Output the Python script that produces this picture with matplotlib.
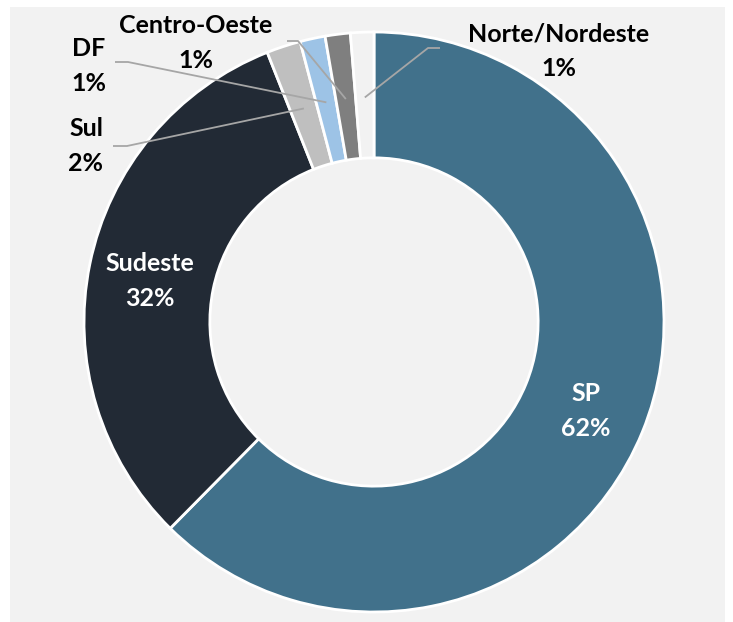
import numpy as np
import matplotlib
matplotlib.use("Agg")
import matplotlib.pyplot as plt
from matplotlib.patches import Rectangle

# data (clockwise from 12 o'clock)
regions = ["SP", "Sudeste", "Sul", "DF", "Centro-Oeste", "Norte/Nordeste"]
shares = [62.4, 31.6, 1.9, 1.4, 1.4, 1.3]
colors = ["#41718b", "#222a35", "#bfbfbf", "#9dc3e6", "#7f7f7f", "#f2f2f2"]

W, H = 733, 622
CX, CY, R = 374, 322, 290  # donut centre / radius in pixels

plt.rcParams["font.family"] = ["Lato", "DejaVu Sans"]

fig = plt.figure(figsize=(W / 100, H / 100), dpi=100)
fig.patch.set_facecolor("white")
fig.patches.append(Rectangle((10 / W, 0), 715 / W, 615 / H, transform=fig.transFigure,
                             facecolor="#f2f2f2", edgecolor="none", zorder=-1))

ax = fig.add_axes([0, 0, 1, 1])
ax.set_zorder(1)
ax.set_facecolor("none")


def px(x, y):
    # pixel position -> data coords
    return (x - CX) / R, (CY - y) / R


wedges, _ = ax.pie(shares, colors=colors, startangle=90, counterclock=False,
                   radius=1.0, wedgeprops=dict(width=0.434, edgecolor="white", linewidth=2))

ax.set_xlim(-CX / R, (W - CX) / R)
ax.set_ylim(-(H - CY) / R, CY / R)
ax.set_aspect("equal")
ax.axis("off")

# angles of wedge middles
mids = []
for w in wedges:
    mids.append(np.deg2rad((w.theta1 + w.theta2) / 2))

fs = 18
lbl_inside = {"SP": (586, 411), "Sudeste": (150, 281)}
lbl_outside = {
    "Sul": ((86, 146), (113, 146), (127, 146)),
    "DF": ((89, 66), (115, 62), (128, 62)),
    "Centro-Oeste": ((196, 43), (287, 41), (298, 41)),
    "Norte/Nordeste": ((559, 51), (440, 48), (428, 48)),
}

for name, val, mid in zip(regions, shares, mids):
    txt = f"{name}\n{val:.0f}%"
    if name in lbl_inside:
        x, y = px(*lbl_inside[name])
        ax.text(x, y, txt, ha="center", va="center", color="white", fontsize=fs,
                fontweight="bold", linespacing=1.58)
    else:
        (tx, ty), p0, p1 = lbl_outside[name]
        x, y = px(tx, ty)
        ax.text(x, y, txt, ha="center", va="center", color="black", fontsize=fs,
                fontweight="bold", linespacing=1.58)
        # leader line into the wedge
        r_end = 0.775
        ex, ey = r_end * np.cos(mid), r_end * np.sin(mid)
        a, b = px(*p0)
        c, d = px(*p1)
        ax.plot([a, c, ex], [b, d, ey], color="#a6a6a6", lw=1.3, solid_capstyle="butt")

fig.savefig("out.png", dpi=100)
